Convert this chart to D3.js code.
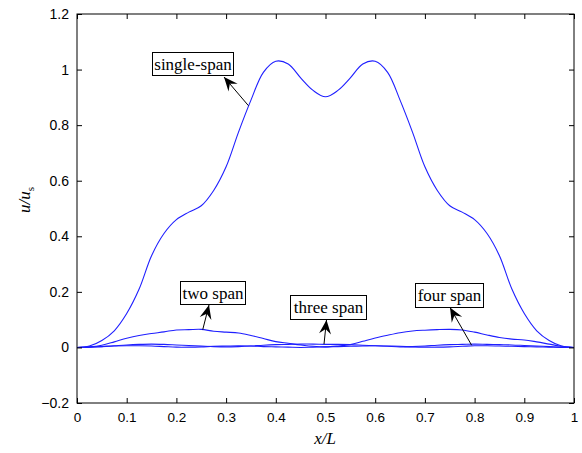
<!DOCTYPE html>
<html>
<head>
<meta charset="utf-8">
<script src="https://cdn.jsdelivr.net/npm/d3@7"></script>
<style>
  html, body { margin: 0; padding: 0; background: #fff; }
  svg { display: block; }
</style>
</head>
<body>
<svg id="chart" width="582" height="453"></svg>
<script>
// ---------------- data ----------------
const xValues = [0, 0.025, 0.05, 0.075, 0.1, 0.125, 0.15, 0.175, 0.2, 0.225, 0.25, 0.275, 0.3, 0.325, 0.35, 0.375, 0.4, 0.425, 0.45, 0.475, 0.5,
                 0.525, 0.55, 0.575, 0.6, 0.625, 0.65, 0.675, 0.7, 0.725, 0.75, 0.775, 0.8, 0.825, 0.85, 0.875, 0.9, 0.925, 0.95, 0.975, 1];

const singleSpan = [0, 0.005, 0.025, 0.06, 0.122, 0.21, 0.33, 0.41, 0.46, 0.487, 0.51, 0.565, 0.65, 0.775, 0.89, 0.99, 1.03, 1.02, 0.97, 0.925, 0.902,
                    0.925, 0.97, 1.02, 1.03, 0.99, 0.89, 0.775, 0.65, 0.565, 0.51, 0.487, 0.46, 0.41, 0.33, 0.21, 0.122, 0.06, 0.025, 0.005, 0];

const twoSpan = [0, 0.002, 0.008, 0.02, 0.033, 0.043, 0.05, 0.056, 0.063, 0.064, 0.065, 0.058, 0.055, 0.052, 0.043, 0.032, 0.021, 0.015, 0.009, 0.004, 0.002,
                 0.005, 0.01, 0.022, 0.034, 0.044, 0.053, 0.059, 0.062, 0.064, 0.065, 0.063, 0.055, 0.045, 0.036, 0.03, 0.027, 0.02, 0.012, 0.004, 0];

const threeSpan = [0, 0.001, 0.003, 0.006, 0.009, 0.011, 0.012, 0.011, 0.009, 0.007, 0.005, 0.003, 0.002, 0.003, 0.005, 0.008, 0.010, 0.011, 0.012, 0.012, 0.011,
                   0.011, 0.010, 0.008, 0.006, 0.004, 0.002, 0.003, 0.005, 0.008, 0.010, 0.011, 0.012, 0.011, 0.010, 0.009, 0.007, 0.005, 0.003, 0.001, 0];

const fourSpan = [0, 0.001, 0.003, 0.005, 0.006, 0.006, 0.005, 0.003, 0.001, 0.001, 0.002, 0.004, 0.005, 0.006, 0.005, 0.003, 0.002, 0.001, 0.000, 0.001, 0.002,
                  0.003, 0.004, 0.005, 0.006, 0.005, 0.004, 0.002, 0.001, 0.001, 0.002, 0.004, 0.006, 0.006, 0.005, 0.004, 0.003, 0.002, 0.001, 0.000, 0];

const xTicks = [0, 0.1, 0.2, 0.3, 0.4, 0.5, 0.6, 0.7, 0.8, 0.9, 1];
const yTicks = [-0.2, 0, 0.2, 0.4, 0.6, 0.8, 1, 1.2];

const seriesValues = [singleSpan, twoSpan, threeSpan, fourSpan];

const annotationLabels = ["single-span", "two span", "three span", "four span"];
const annotationPointX = [0.345, 0.253, 0.497, 0.794];   // data x where arrow tail touches curve
const annotationPointY = [0.87, 0.064, 0.012, 0.008];

// ---------------- layout ----------------
const W = 582, H = 453;
const x0 = 77, x1 = 574, y0 = 403, y1 = 14;

const x = d3.scaleLinear().domain([0, 1]).range([x0, x1]);
const y = d3.scaleLinear().domain([-0.2, 1.2]).range([y0, y1]);

const svg = d3.select("#chart");
svg.append("rect").attr("width", W).attr("height", H).attr("fill", "#fff");

const plot = svg.append("g");

const line = d3.line()
  .x((d, i) => x(xValues[i]))
  .y(d => y(d))
  .curve(d3.curveCatmullRom.alpha(0.5));

seriesValues.forEach(vals => {
  plot.append("path")
    .datum(vals)
    .attr("d", line)
    .attr("fill", "none")
    .attr("stroke", "#1f1fff")
    .attr("stroke-width", 1.1);
});

// axes (MATLAB style box with inward ticks)
const tickLen = 5;
const axisFont = "'Liberation Sans', Arial, sans-serif";

const bottomAxis = d3.axisBottom(x).tickValues(xTicks).tickSize(-tickLen).tickPadding(9)
  .tickFormat(d => d3.format("")(+d.toFixed(1)));
const gB = svg.append("g").attr("transform", `translate(0,${y0})`).call(bottomAxis);
const topAxis = d3.axisTop(x).tickValues(xTicks).tickSize(-tickLen).tickFormat("");
const gT = svg.append("g").attr("transform", `translate(0,${y1})`).call(topAxis);
const leftAxis = d3.axisLeft(y).tickValues(yTicks).tickSize(-tickLen).tickPadding(8)
  .tickFormat(d => d3.format("")(+d.toFixed(1)));
const gL = svg.append("g").attr("transform", `translate(${x0},0)`).call(leftAxis);
const rightAxis = d3.axisRight(y).tickValues(yTicks).tickSize(-tickLen).tickFormat("");
const gR = svg.append("g").attr("transform", `translate(${x1},0)`).call(rightAxis);

[gB, gT, gL, gR].forEach(g => {
  g.select(".domain").remove();
  g.selectAll(".tick line").attr("stroke", "#000").attr("stroke-width", 1);
  g.selectAll(".tick text").attr("fill", "#000").style("font-family", axisFont).style("font-size", "14px");
});
gB.selectAll(".tick text").style("font-size", "13.5px");

svg.append("rect")
  .attr("x", x0).attr("y", y1).attr("width", x1 - x0).attr("height", y0 - y1)
  .attr("fill", "none").attr("stroke", "#000").attr("stroke-width", 1);

// axis titles
const serif = "'Liberation Serif', 'Times New Roman', serif";
svg.append("text")
  .attr("x", 325).attr("y", 444)
  .attr("text-anchor", "middle")
  .style("font-family", serif).style("font-style", "italic").style("font-size", "17px")
  .text("x/L");

const yt = svg.append("text")
  .attr("transform", "translate(30,200) rotate(-90)")
  .attr("text-anchor", "middle")
  .style("font-family", serif).style("font-size", "17px");
yt.append("tspan").style("font-style", "italic").text("u/u");
yt.append("tspan").attr("dy", 4).style("font-size", "11px").text("s");

// annotations
const boxes = [
  { bx: 152, by: 52, bw: 81, bh: 23, tipX: 224, tipY: 77 },
  { bx: 180, by: 281, bw: 65, bh: 23, tipX: 209, tipY: 305 },
  { bx: 290, by: 295, bw: 76, bh: 24, tipX: 326.5, tipY: 320 },
  { bx: 415, by: 283, bw: 68, bh: 24, tipX: 450, tipY: 307.5 }
];

function arrowHead(tx, ty, fx, fy) {
  const ang = Math.atan2(ty - fy, tx - fx);
  const L = 14, Wd = 6, notch = 9;
  const c = Math.cos(ang), s = Math.sin(ang);
  const p = (a, b) => [tx - a * c + b * s, ty - a * s - b * c];
  const pts = [[tx, ty], p(L, Wd), p(notch, 0), p(L, -Wd)];
  return "M" + pts.map(q => q.join(",")).join("L") + "Z";
}

annotationLabels.forEach((lab, i) => {
  const b = boxes[i];
  const px = x(annotationPointX[i]), py = y(annotationPointY[i]);
  svg.append("line")
    .attr("x1", px).attr("y1", py).attr("x2", b.tipX).attr("y2", b.tipY)
    .attr("stroke", "#000").attr("stroke-width", 1);
  svg.append("path").attr("d", arrowHead(b.tipX, b.tipY, px, py)).attr("fill", "#000");
  svg.append("rect")
    .attr("x", b.bx + 0.5).attr("y", b.by + 0.5).attr("width", b.bw).attr("height", b.bh)
    .attr("fill", "#fff").attr("stroke", "#000").attr("stroke-width", 1);
  svg.append("text")
    .attr("x", b.bx + 0.5 + b.bw / 2).attr("y", b.by + b.bh / 2 + 6)
    .attr("text-anchor", "middle")
    .style("font-family", serif).style("font-size", "17px")
    .text(lab);
});
</script>
</body>
</html>
